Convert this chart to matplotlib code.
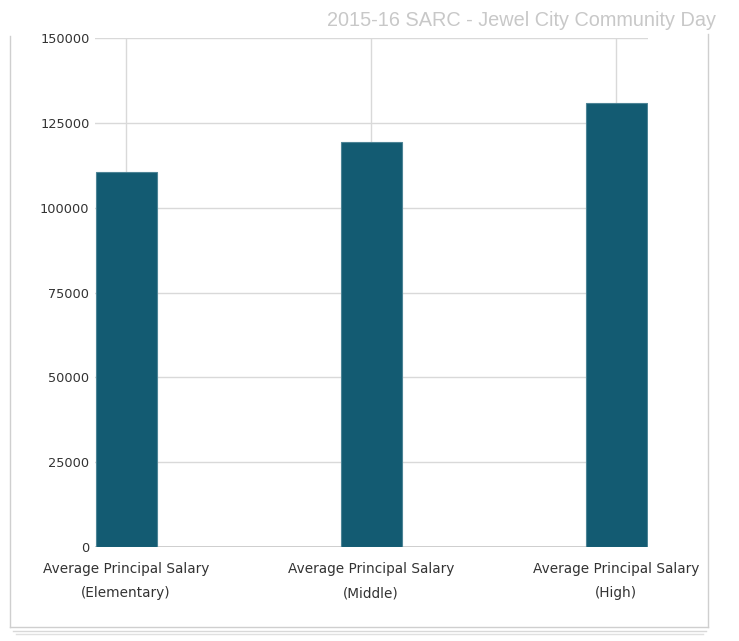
import matplotlib
matplotlib.use("Agg")
import matplotlib.pyplot as plt
from matplotlib.lines import Line2D

# data
categories = ["Average Principal Salary\n(Elementary)",
              "Average Principal Salary\n(Middle)",
              "Average Principal Salary\n(High)"]
salaries = [110500, 119400, 130900]
yticks = [0, 25000, 50000, 75000, 100000, 125000, 150000]
title = "2015-16 SARC - Jewel City Community Day"

plt.rcParams['font.family'] = ['DejaVu Sans']

fig = plt.figure(figsize=(7.39, 6.41), dpi=100)
ax = fig.add_axes([0.1286, 0.1466, 0.877 - 0.1286, 0.9407 - 0.1466])

x = list(range(len(categories)))
ax.bar(x, salaries, width=0.25, color='#135b72', edgecolor='#4d8496',
       linewidth=0.8, zorder=3)

ax.set_xlim(-0.127, 2.13)
ax.set_ylim(0, 150000)
ax.set_yticks(yticks)
ax.set_yticklabels([str(v) for v in yticks])
ax.set_xticks(x)
ax.set_xticklabels(categories, linespacing=1.9)

ax.grid(True, color='#d9d9d9', linewidth=1.0, zorder=0)
ax.set_axisbelow(True)
ax.axhline(0, color='#c8c8c8', linewidth=1.2, zorder=2)

for s in ax.spines.values():
    s.set_visible(False)
ax.tick_params(axis='both', length=0, colors='#333333')
ax.tick_params(axis='y', pad=4, labelsize=9.3)
ax.tick_params(axis='x', pad=11, labelsize=9.8)

fig.text(716 / 739, 1 - 21 / 641, title, ha='right', va='center',
         fontsize=14.3, color='#c8c8c8', family=['Liberation Sans', 'DejaVu Sans'])

# outer frame with stacked shadow at the bottom
W, H = 739.0, 641.0
def fl(x0, y0, x1, y1, c, lw=1.0):
    fig.add_artist(Line2D([x0 / W, x1 / W], [1 - y0 / H, 1 - y1 / H],
                          transform=fig.transFigure, color=c, linewidth=lw))

fl(10, 36, 10, 627, '#cfcfcf')
fl(708, 34, 708, 627, '#cfcfcf')
fl(10, 627, 708, 627, '#cfcfcf')
fl(13, 631, 706, 631, '#d8d8d8')
fl(16, 634, 703, 634, '#e0e0e0')

fig.savefig("out.png", dpi=100)
